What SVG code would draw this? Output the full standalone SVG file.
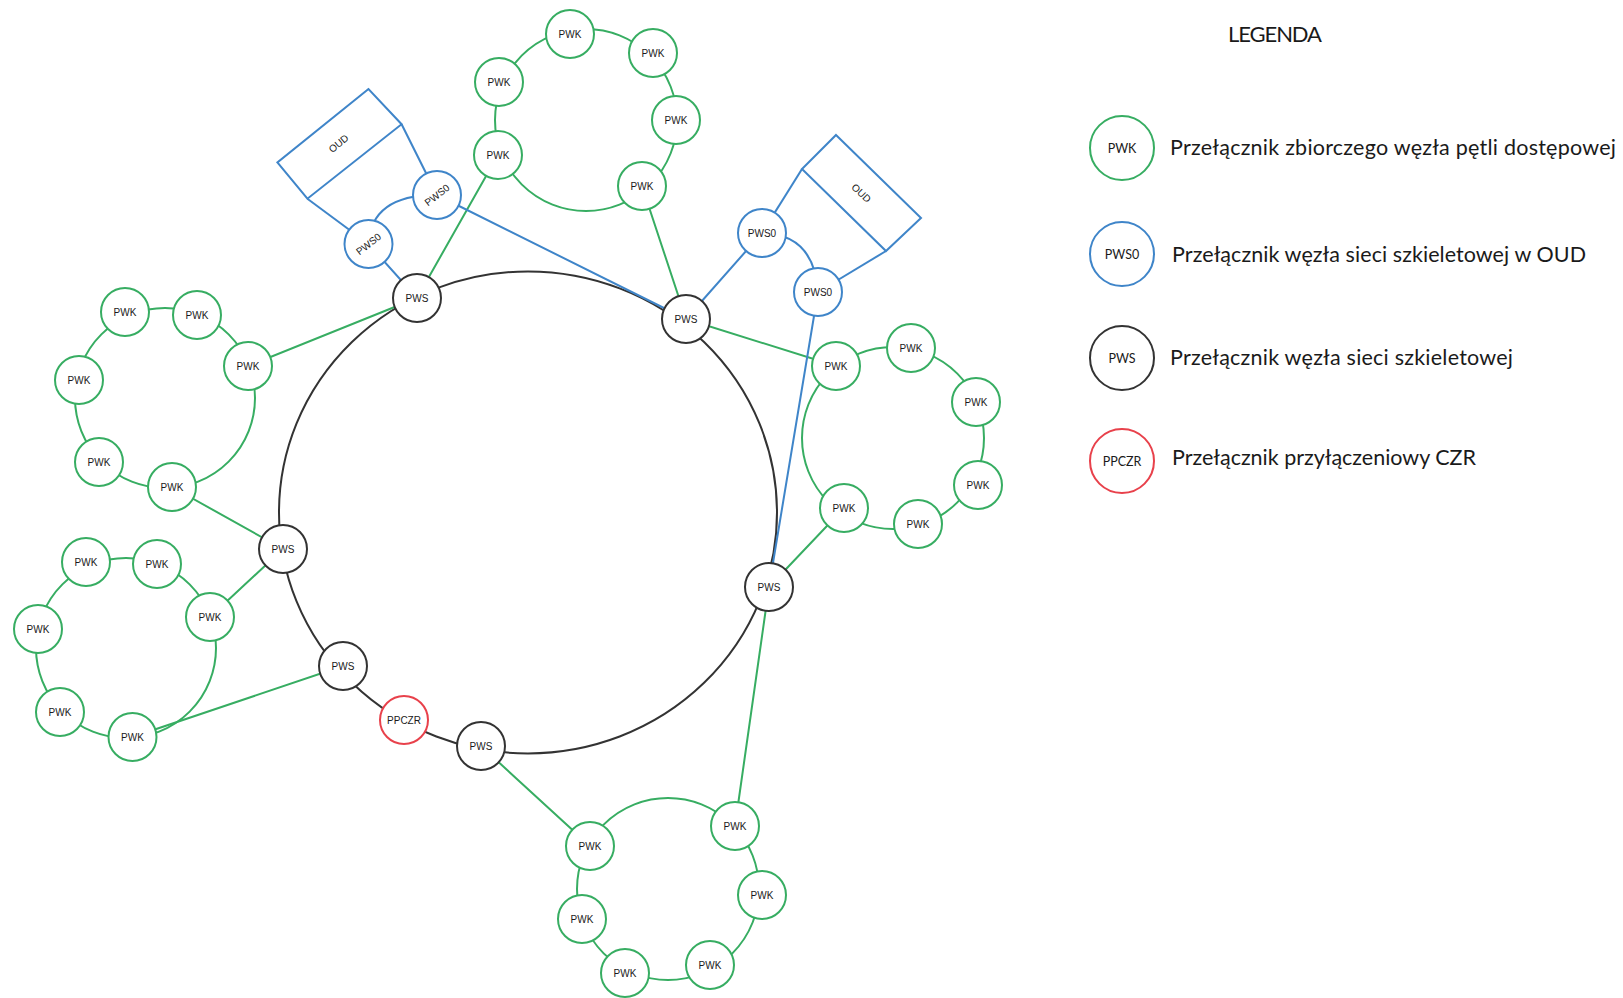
<svg xmlns="http://www.w3.org/2000/svg" width="1623" height="998" viewBox="0 0 1623 998">
  <style>
    .bg { fill: #ffffff; }
    .g { stroke: #37ad62; }
    .b { stroke: #3f85c9; }
    .k { stroke: #333333; }
    .r { stroke: #e8414b; }
    .wire { fill: none; stroke-width: 2; stroke-linecap: round; }
    .node circle { fill: #ffffff; stroke-width: 2; }
    .pwk circle { stroke: #37ad62; }
    .pws circle { stroke: #333333; }
    .pws0 circle { stroke: #3f85c9; }
    .ppczr circle { stroke: #e8414b; }
    .node text { font-family: "Liberation Sans", Arial, sans-serif; font-size: 10px; fill: #1a1a1a; text-anchor: middle; }
    .oud polygon, .oud line { fill: none; stroke: #3f85c9; stroke-width: 2; }
    .oud text { font-family: "Liberation Sans", Arial, sans-serif; font-size: 10px; fill: #1a1a1a; text-anchor: middle; }
    .legend text { font-family: Lato, "Liberation Sans", sans-serif; fill: #1a1a1a; }
    .legend .title { font-size: 22px; }
    .legend .desc { font-size: 21.5px; }
    .legend .node text { font-size: 12.5px; }
  </style>

  <rect class="bg" x="0" y="0" width="1623" height="998"/>

  <!-- connectors: backbone ring, access loops, uplinks -->
  <g id="connectors" class="wire">
    <!-- backbone ring -->
    <ellipse class="k" cx="528" cy="512.4" rx="249" ry="241"/>

    <!-- access loops -->
    <circle class="g" cx="586" cy="120" r="91"/>
    <circle class="g" cx="893" cy="438" r="91"/>
    <circle class="g" cx="165" cy="398" r="90"/>
    <circle class="g" cx="126" cy="648" r="90"/>
    <circle class="g" cx="668" cy="889" r="91"/>

    <!-- green uplinks loop -> backbone -->
    <line class="g" x1="498" y1="155" x2="417" y2="298"/>
    <line class="g" x1="642" y1="186" x2="686" y2="319"/>
    <line class="g" x1="686" y1="319" x2="836" y2="366"/>
    <line class="g" x1="769" y1="587" x2="844" y2="508"/>
    <line class="g" x1="248" y1="366" x2="417" y2="298"/>
    <line class="g" x1="172" y1="487" x2="283" y2="549"/>
    <line class="g" x1="210" y1="617" x2="283" y2="549"/>
    <line class="g" x1="132.5" y1="737" x2="343" y2="666"/>
    <line class="g" x1="481" y1="746" x2="590" y2="846"/>
    <line class="g" x1="769" y1="587" x2="735" y2="826"/>

    <!-- blue links of the OUD switches -->
    <line class="b" x1="437" y1="195" x2="686" y2="319"/>
    <line class="b" x1="368.5" y1="244" x2="417" y2="298"/>
    <line class="b" x1="762" y1="233" x2="686" y2="319"/>
    <line class="b" x1="818" y1="292" x2="769" y2="587"/>
    <path class="b" d="M437,195 Q371.4,194.5 368.5,244"/>
    <path class="b" d="M762,233 Q814,234 818,292"/>
  </g>

  <!-- OUD enclosures -->
  <g id="oud-left" class="oud">
    <polygon points="368.5,89 277.4,162.5 307.4,198.7 401.6,124.2"/>
    <line x1="401.6" y1="124.2" x2="437" y2="195"/>
    <line x1="307.4" y1="198.7" x2="368.5" y2="244"/>
    <text x="338.7" y="147" transform="rotate(-39 338.7 143.6)">OUD</text>
  </g>
  <g id="oud-right" class="oud">
    <polygon points="836,135 921,218 886,251 802,169"/>
    <line x1="802" y1="169" x2="762" y2="233"/>
    <line x1="886" y1="251" x2="818" y2="292"/>
    <text x="861.2" y="196.6" transform="rotate(44 861.2 193.2)">OUD</text>
  </g>

  <!-- backbone switches -->
  <g id="pws-1" class="node pws"><circle cx="417" cy="298" r="24"/><text x="417" y="301.5">PWS</text></g>
  <g id="pws-2" class="node pws"><circle cx="686" cy="319" r="24"/><text x="686" y="322.5">PWS</text></g>
  <g id="pws-3" class="node pws"><circle cx="283" cy="549" r="24"/><text x="283" y="552.5">PWS</text></g>
  <g id="pws-4" class="node pws"><circle cx="769" cy="587" r="24"/><text x="769" y="590.5">PWS</text></g>
  <g id="pws-5" class="node pws"><circle cx="343" cy="666" r="24"/><text x="343" y="669.5">PWS</text></g>
  <g id="pws-6" class="node pws"><circle cx="481" cy="746" r="24"/><text x="481" y="749.5">PWS</text></g>
  <g id="ppczr" class="node ppczr"><circle cx="404" cy="720" r="24"/><text x="404" y="723.5">PPCZR</text></g>

  <!-- OUD backbone switches -->
  <g id="pws0-l1" class="node pws0"><circle cx="437" cy="195" r="24"/><text x="437" y="198.5" transform="rotate(-38 437 195)">PWS0</text></g>
  <g id="pws0-l2" class="node pws0"><circle cx="368.5" cy="244" r="24"/><text x="368.5" y="247.5" transform="rotate(-38 368.5 244)">PWS0</text></g>
  <g id="pws0-r1" class="node pws0"><circle cx="762" cy="233" r="24"/><text x="762" y="236.5">PWS0</text></g>
  <g id="pws0-r2" class="node pws0"><circle cx="818" cy="292" r="24"/><text x="818" y="295.5">PWS0</text></g>

  <!-- top access loop -->
  <g id="pwk-t1" class="node pwk"><circle cx="570" cy="34" r="24"/><text x="570" y="37.5">PWK</text></g>
  <g id="pwk-t2" class="node pwk"><circle cx="653" cy="53" r="24"/><text x="653" y="56.5">PWK</text></g>
  <g id="pwk-t3" class="node pwk"><circle cx="676" cy="120" r="24"/><text x="676" y="123.5">PWK</text></g>
  <g id="pwk-t4" class="node pwk"><circle cx="642" cy="186" r="24"/><text x="642" y="189.5">PWK</text></g>
  <g id="pwk-t5" class="node pwk"><circle cx="498" cy="155" r="24"/><text x="498" y="158.5">PWK</text></g>
  <g id="pwk-t6" class="node pwk"><circle cx="499" cy="82" r="24"/><text x="499" y="85.5">PWK</text></g>

  <!-- right access loop -->
  <g id="pwk-r1" class="node pwk"><circle cx="836" cy="366" r="24"/><text x="836" y="369.5">PWK</text></g>
  <g id="pwk-r2" class="node pwk"><circle cx="911" cy="348" r="24"/><text x="911" y="351.5">PWK</text></g>
  <g id="pwk-r3" class="node pwk"><circle cx="976" cy="402" r="24"/><text x="976" y="405.5">PWK</text></g>
  <g id="pwk-r4" class="node pwk"><circle cx="978" cy="485" r="24"/><text x="978" y="488.5">PWK</text></g>
  <g id="pwk-r5" class="node pwk"><circle cx="918" cy="524" r="24"/><text x="918" y="527.5">PWK</text></g>
  <g id="pwk-r6" class="node pwk"><circle cx="844" cy="508" r="24"/><text x="844" y="511.5">PWK</text></g>

  <!-- upper left access loop -->
  <g id="pwk-a1" class="node pwk"><circle cx="125" cy="312" r="24"/><text x="125" y="315.5">PWK</text></g>
  <g id="pwk-a2" class="node pwk"><circle cx="197" cy="315" r="24"/><text x="197" y="318.5">PWK</text></g>
  <g id="pwk-a3" class="node pwk"><circle cx="248" cy="366" r="24"/><text x="248" y="369.5">PWK</text></g>
  <g id="pwk-a4" class="node pwk"><circle cx="172" cy="487" r="24"/><text x="172" y="490.5">PWK</text></g>
  <g id="pwk-a5" class="node pwk"><circle cx="99" cy="462" r="24"/><text x="99" y="465.5">PWK</text></g>
  <g id="pwk-a6" class="node pwk"><circle cx="79" cy="380" r="24"/><text x="79" y="383.5">PWK</text></g>

  <!-- lower left access loop -->
  <g id="pwk-b1" class="node pwk"><circle cx="86" cy="562" r="24"/><text x="86" y="565.5">PWK</text></g>
  <g id="pwk-b2" class="node pwk"><circle cx="157" cy="564" r="24"/><text x="157" y="567.5">PWK</text></g>
  <g id="pwk-b3" class="node pwk"><circle cx="210" cy="617" r="24"/><text x="210" y="620.5">PWK</text></g>
  <g id="pwk-b4" class="node pwk"><circle cx="132.5" cy="737" r="24"/><text x="132.5" y="740.5">PWK</text></g>
  <g id="pwk-b5" class="node pwk"><circle cx="60" cy="712" r="24"/><text x="60" y="715.5">PWK</text></g>
  <g id="pwk-b6" class="node pwk"><circle cx="38" cy="629" r="24"/><text x="38" y="632.5">PWK</text></g>

  <!-- bottom access loop -->
  <g id="pwk-c1" class="node pwk"><circle cx="590" cy="846" r="24"/><text x="590" y="849.5">PWK</text></g>
  <g id="pwk-c2" class="node pwk"><circle cx="735" cy="826" r="24"/><text x="735" y="829.5">PWK</text></g>
  <g id="pwk-c3" class="node pwk"><circle cx="762" cy="895" r="24"/><text x="762" y="898.5">PWK</text></g>
  <g id="pwk-c4" class="node pwk"><circle cx="710" cy="965" r="24"/><text x="710" y="968.5">PWK</text></g>
  <g id="pwk-c5" class="node pwk"><circle cx="625" cy="973" r="24"/><text x="625" y="976.5">PWK</text></g>
  <g id="pwk-c6" class="node pwk"><circle cx="582" cy="919" r="24"/><text x="582" y="922.5">PWK</text></g>

  <!-- legend -->
  <g id="legend" class="legend">
    <text class="title" x="1228" y="42" textLength="94">LEGENDA</text>
    <g id="legend-pwk" class="node pwk"><circle cx="1122" cy="148" r="32"/><text x="1122" y="152.5">PWK</text></g>
    <text class="desc" x="1170" y="155" textLength="446">Przełącznik zbiorczego węzła pętli dostępowej</text>
    <g id="legend-pws0" class="node pws0"><circle cx="1122" cy="254" r="32"/><text x="1122" y="258.5">PWS0</text></g>
    <text class="desc" x="1172" y="262" textLength="414">Przełącznik węzła sieci szkieletowej w OUD</text>
    <g id="legend-pws" class="node pws"><circle cx="1122" cy="358" r="32"/><text x="1122" y="362.5">PWS</text></g>
    <text class="desc" x="1170" y="365" textLength="343">Przełącznik węzła sieci szkieletowej</text>
    <g id="legend-ppczr" class="node ppczr"><circle cx="1122" cy="461" r="32"/><text x="1122" y="465.5">PPCZR</text></g>
    <text class="desc" x="1172" y="465" textLength="304">Przełącznik przyłączeniowy CZR</text>
  </g>
</svg>
